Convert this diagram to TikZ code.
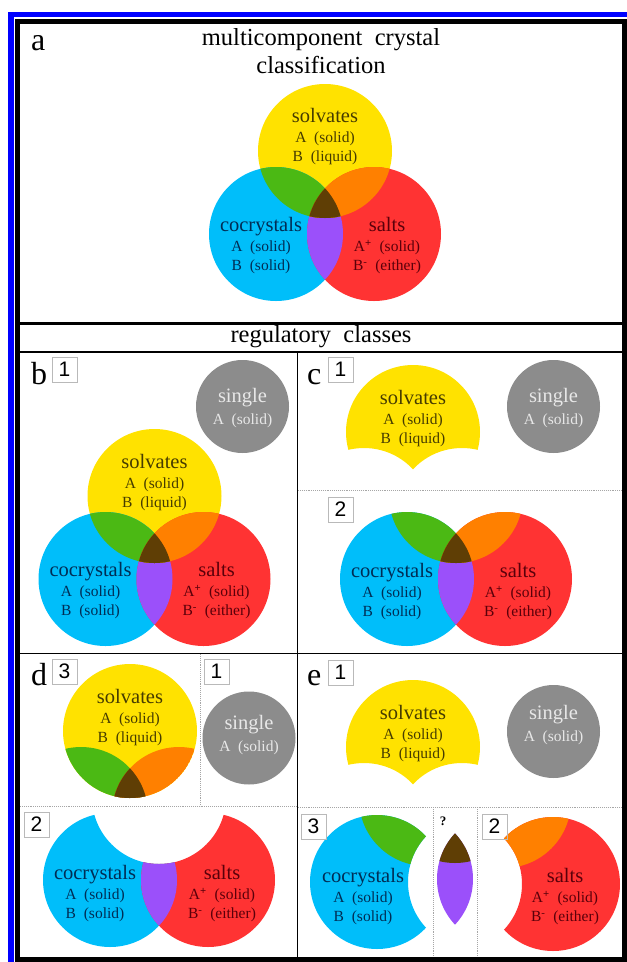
\documentclass[tikz,border=0pt]{standalone}
\usepackage{fontspec}
\setmainfont{Liberation Serif}
\setsansfont{Liberation Sans}
\usetikzlibrary{calc}

\definecolor{solvY}{RGB}{255,226,0}
\definecolor{cocrB}{RGB}{0,190,250}
\definecolor{saltR}{RGB}{255,51,51}
\definecolor{mixG}{RGB}{75,185,20}
\definecolor{mixO}{RGB}{255,128,0}
\definecolor{mixP}{RGB}{155,80,250}
\definecolor{mixK}{RGB}{95,62,5}
\definecolor{singG}{RGB}{140,140,140}
\definecolor{frameB}{RGB}{0,0,255}
\definecolor{txtY}{RGB}{70,60,0}
\definecolor{txtB}{RGB}{0,45,85}
\definecolor{txtR}{RGB}{90,0,10}
\definecolor{txtS}{RGB}{232,232,232}

\newcommand{\rbig}{67pt}
\newcommand{\rsing}{46.5pt}

% label texts
\newcommand{\solvtxt}{{\fontsize{20.5}{20.5}\selectfont solvates}\\[1pt] A\enspace(solid)\\ B\enspace(liquid)}
\newcommand{\cocrtxt}{{\fontsize{20.5}{20.5}\selectfont cocrystals}\\[1pt] A\enspace(solid)\\ B\enspace(solid)}
\newcommand{\salttxt}{{\fontsize{20.5}{20.5}\selectfont salts}\\[1pt] A\textsuperscript{\textbf{+}}\enspace(solid)\\ B\textsuperscript{-}\enspace(either)}
\newcommand{\singtxt}{{\fontsize{20.5}{20.5}\selectfont single}\\[3pt] A\enspace(solid)}

% keep only what lies outside circle #1 (inside an even odd scope)
\newcommand{\clipoff}[1]{\clip (0,0) rectangle (627,962) (#1) circle[radius=\rbig];}

% overlap colours of a yellow (#1), blue (#2) and red (#3) circle
\newcommand{\overlaps}[3]{%
  \begin{scope}
    \clip (#2) circle[radius=\rbig];
    \fill[mixP] (#3) circle[radius=\rbig];
    \fill[mixG] (#1) circle[radius=\rbig];
    \clip (#3) circle[radius=\rbig];
    \fill[mixK] (#1) circle[radius=\rbig];
  \end{scope}
  \begin{scope}
    \clip (#3) circle[radius=\rbig];
    \fill[mixO] (#1) circle[radius=\rbig];
    \clip (#2) circle[radius=\rbig];
    \fill[mixK] (#1) circle[radius=\rbig];
  \end{scope}}

\tikzset{%
  lbl/.style={align=center, inner sep=0pt, font=\fontsize{15.5}{19}\selectfont},
  numbox/.style={draw=gray!55, line width=0.8pt, minimum size=25pt, inner sep=0pt,
    font=\sffamily\fontsize{21}{21}\selectfont},
  panel/.style={inner sep=0pt, anchor=base west, font=\fontsize{32}{32}\selectfont},
  heading/.style={align=center, inner sep=0pt, font=\fontsize{24.5}{28}\selectfont},
  divider/.style={draw=gray!70, line width=0.9pt, densely dotted},
  rule/.style={draw=black, line width=1.3pt}
}

\begin{document}
\begin{tikzpicture}[x=1pt, y=-1pt]
  \useasboundingbox (0,0) rectangle (627,962);

  % circle centres
  \coordinate (aY) at (325,151);
  \coordinate (aB) at (276,234);
  \coordinate (aR) at (374,234);
  \coordinate (bY) at (154.5,496);
  \coordinate (bB) at (105.5,579);
  \coordinate (bR) at (203.5,579);
  \coordinate (bS) at (242.5,406.5);
  \coordinate (cY) at (413,432);
  \coordinate (cYB) at (364,515);
  \coordinate (cYR) at (462,515);
  \coordinate (cS) at (553.5,406.5);
  \coordinate (cTY) at (456,496);
  \coordinate (cB) at (407,579);
  \coordinate (cR) at (505,579);
  \coordinate (dY) at (130,731);
  \coordinate (dYB) at (81,814);
  \coordinate (dYR) at (179,814);
  \coordinate (dS) at (249,738);
  \coordinate (dTY) at (159,797);
  \coordinate (dB) at (110,880);
  \coordinate (dR) at (208,880);
  \coordinate (eY) at (413,747);
  \coordinate (eYB) at (364,830);
  \coordinate (eYR) at (462,830);
  \coordinate (eS) at (553.5,731.5);
  \coordinate (eB) at (377,882);
  \coordinate (eBR) at (475,882);
  \coordinate (eBY) at (426,799);
  \coordinate (eLB) at (406,879);
  \coordinate (eLR) at (504,879);
  \coordinate (eLY) at (455,796);
  \coordinate (eR) at (553,884);
  \coordinate (eRB) at (455,884);
  \coordinate (eRY) at (504,801);

  % a
  \fill[solvY] (aY) circle[radius=\rbig];
  \fill[cocrB] (aB) circle[radius=\rbig];
  \fill[saltR] (aR) circle[radius=\rbig];
  \overlaps{aY}{aB}{aR}

  % b
  \fill[singG] (bS) circle[radius=\rsing];
  \fill[solvY] (bY) circle[radius=\rbig];
  \fill[cocrB] (bB) circle[radius=\rbig];
  \fill[saltR] (bR) circle[radius=\rbig];
  \overlaps{bY}{bB}{bR}

  % c
  \begin{scope}[even odd rule]
    \clipoff{cYB}
    \clipoff{cYR}
    \fill[solvY] (cY) circle[radius=\rbig];
  \end{scope}
  \fill[singG] (cS) circle[radius=\rsing];
  \fill[cocrB] (cB) circle[radius=\rbig];
  \fill[saltR] (cR) circle[radius=\rbig];
  \overlaps{cTY}{cB}{cR}

  % d
  \fill[solvY] (dY) circle[radius=\rbig];
  \begin{scope}
    \clip (dY) circle[radius=\rbig];
    \overlaps{dY}{dYB}{dYR}
  \end{scope}
  \fill[singG] (dS) circle[radius=\rsing];
  \begin{scope}[even odd rule]
    \clipoff{dTY}
    \fill[cocrB] (dB) circle[radius=\rbig];
    \fill[saltR] (dR) circle[radius=\rbig];
    \clip (dB) circle[radius=\rbig];
    \fill[mixP] (dR) circle[radius=\rbig];
  \end{scope}

  % e
  \begin{scope}[even odd rule]
    \clipoff{eYB}
    \clipoff{eYR}
    \fill[solvY] (eY) circle[radius=\rbig];
  \end{scope}
  \fill[singG] (eS) circle[radius=\rsing];
  \begin{scope}[even odd rule]
    \clipoff{eBR}
    \fill[cocrB] (eB) circle[radius=\rbig];
    \clip (eB) circle[radius=\rbig];
    \fill[mixG] (eBY) circle[radius=\rbig];
  \end{scope}
  \begin{scope}
    \clip (eLB) circle[radius=\rbig];
    \fill[mixP] (eLR) circle[radius=\rbig];
    \clip (eLR) circle[radius=\rbig];
    \fill[mixK] (eLY) circle[radius=\rbig];
  \end{scope}
  \begin{scope}[even odd rule]
    \clipoff{eRB}
    \fill[saltR] (eR) circle[radius=\rbig];
    \clip (eR) circle[radius=\rbig];
    \fill[mixO] (eRY) circle[radius=\rbig];
  \end{scope}

  % dotted dividers
  \draw[divider] (298,490) -- (622,490);
  \draw[divider] (200,654) -- (200,806);
  \draw[divider] (20,806) -- (297,806);
  \draw[divider] (298,807) -- (622,807);
  \draw[divider] (433,807) -- (433,957);
  \draw[divider] (477,807) -- (477,957);

  % panel rules and frame
  \draw[line width=3pt] (15,323.5) -- (627,323.5);
  \draw[rule] (15,352) -- (627,352);
  \draw[rule] (297.5,352) -- (297.5,957);
  \draw[rule] (15,653.5) -- (627,653.5);
  \fill[frameB] (8,12) rectangle (627,17);
  \fill[frameB] (8,12) rectangle (14,962);
  \draw[line width=5pt] (17.5,21.5) rectangle (624.5,959.5);

  % headings and panel letters
  \node[heading] (title) at (321,51) {multicomponent\enspace crystal\\classification};
  \node[heading] (regul) at (321,337) {regulatory\enspace classes};
  \node[panel] (pa) at (31,50) {a};
  \node[panel] (pb) at (31,384) {b};
  \node[panel] (pc) at (307,384) {c};
  \node[panel] (pd) at (31,685) {d};
  \node[panel] (pe) at (307,685) {e};

  % number boxes
  \node[numbox] (b1) at (64.5,369.5) {1};
  \node[numbox] (c1) at (340.5,369.5) {1};
  \node[numbox] (c2) at (340.5,509.5) {2};
  \node[numbox] (d3) at (64.5,671.5) {3};
  \node[numbox] (d1) at (216.5,671.5) {1};
  \node[numbox] (d2) at (36.5,824.5) {2};
  \node[numbox] (e1) at (340.5,672.5) {1};
  \node[numbox] (e3) at (313.5,826.5) {3};
  \node[numbox] (e2) at (494.5,826.5) {2};
  \node[font=\bfseries\fontsize{13}{13}\selectfont, inner sep=0pt] (qm) at (443,821) {?};

  % circle labels
  \node[lbl, text=txtY] (aSolv) at ($(aY)+(0,-14)$) {\solvtxt};
  \node[lbl, text=txtB] (aCocr) at ($(aB)+(-15,12)$) {\cocrtxt};
  \node[lbl, text=txtR] (aSalt) at ($(aR)+(13,12)$) {\salttxt};

  \node[lbl, text=txtS] (bSing) at ($(bS)+(0,2)$) {\singtxt};
  \node[lbl, text=txtY] (bSolv) at ($(bY)+(0,-13)$) {\solvtxt};
  \node[lbl, text=txtB] (bCocr) at ($(bB)+(-15,12)$) {\cocrtxt};
  \node[lbl, text=txtR] (bSalt) at ($(bR)+(13,12)$) {\salttxt};

  \node[lbl, text=txtY] (cSolv) at ($(cY)+(0,-13)$) {\solvtxt};
  \node[lbl, text=txtS] (cSing) at ($(cS)+(0,2)$) {\singtxt};
  \node[lbl, text=txtB] (cCocr) at ($(cB)+(-15,13)$) {\cocrtxt};
  \node[lbl, text=txtR] (cSalt) at ($(cR)+(13,13)$) {\salttxt};

  \node[lbl, text=txtY] (dSolv) at ($(dY)+(0,-13)$) {\solvtxt};
  \node[lbl, text=txtS] (dSing) at ($(dS)+(0,-3)$) {\singtxt};
  \node[lbl, text=txtB] (dCocr) at ($(dB)+(-15,14)$) {\cocrtxt};
  \node[lbl, text=txtR] (dSalt) at ($(dR)+(14,14)$) {\salttxt};

  \node[lbl, text=txtY] (eSolv) at ($(eY)+(0,-13)$) {\solvtxt};
  \node[lbl, text=txtS] (eSing) at ($(eS)+(0,-6)$) {\singtxt};
  \node[lbl, text=txtB] (eCocr) at ($(eB)+(-14,15)$) {\cocrtxt};
  \node[lbl, text=txtR] (eSalt) at ($(eR)+(12,13)$) {\salttxt};
\end{tikzpicture}
\end{document}
